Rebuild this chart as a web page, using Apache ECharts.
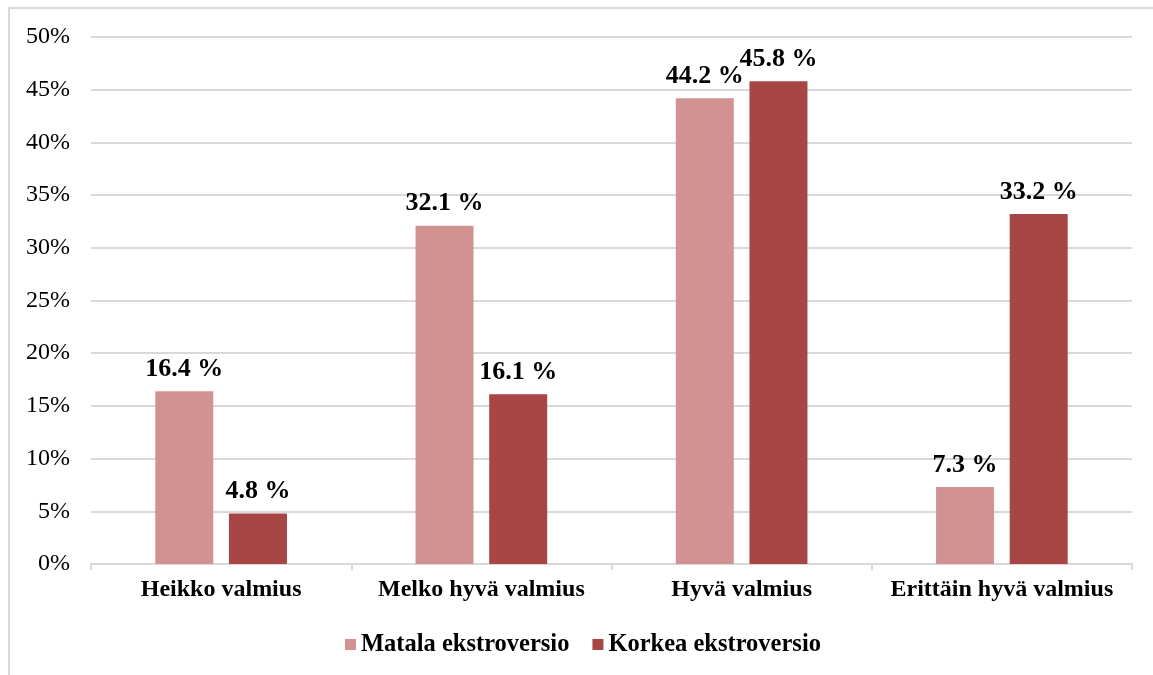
<!DOCTYPE html>
<html>
<head>
<meta charset="utf-8">
<script src="https://cdn.jsdelivr.net/npm/echarts@6/dist/echarts.min.js"></script>
<style>html,body{margin:0;padding:0;background:#fff}#c{width:1153px;height:675px}</style>
</head>
<body>
<div id="c"></div>
<script>
const categories = ['Heikko valmius', 'Melko hyvä valmius', 'Hyvä valmius', 'Erittäin hyvä valmius'];
const seriesNames = ['Matala ekstroversio', 'Korkea ekstroversio'];
const matala = [16.4, 32.1, 44.2, 7.3];
const korkea = [4.8, 16.1, 45.8, 33.2];
const colors = ['#D39292', '#A84646'];

const font = '"Liberation Serif", "Times New Roman", serif';
const chart = echarts.init(document.getElementById('c'));
const labelCfg = {
  show: true, position: 'top', distance: 9,
  fontFamily: font, fontSize: 26, fontWeight: 'bold', color: '#000',
  formatter: p => p.value.toFixed(1) + ' %'
};
chart.setOption({
  animation: false,
  graphic: [{
    type: 'rect', shape: {x: 9, y: 8, width: 1200, height: 700},
    style: {fill: 'none', stroke: '#d9d9d9', lineWidth: 2}, silent: true, z: -1
  }],
  grid: {left: 91, right: 21, top: 37, bottom: 111},
  legend: {
    top: 627, left: 340, itemWidth: 11, itemHeight: 11, itemGap: 23,
    icon: 'rect',
    textStyle: {fontFamily: font, fontSize: 24.5, fontWeight: 'bold', color: '#000'},
    data: seriesNames
  },
  xAxis: {
    type: 'category', data: categories,
    axisLine: {lineStyle: {color: '#d9d9d9', width: 2}},
    axisTick: {show: true, length: 6, lineStyle: {color: '#d9d9d9', width: 2}},
    axisLabel: {interval: 0, fontFamily: font, fontSize: 24, fontWeight: 'bold', color: '#000', margin: 14}
  },
  yAxis: {
    type: 'value', min: 0, max: 50, interval: 5,
    axisLine: {show: false}, axisTick: {show: false},
    splitLine: {lineStyle: {color: '#d9d9d9', width: 2}},
    axisLabel: {fontFamily: font, fontSize: 24, color: '#000', margin: 21, formatter: v => v + '%'}
  },
  series: [
    {name: seriesNames[0], type: 'bar', data: matala, barWidth: 58, barGap: '27%',
     itemStyle: {color: colors[0]}, label: labelCfg},
    {name: seriesNames[1], type: 'bar', data: korkea, barWidth: 58,
     itemStyle: {color: colors[1]}, label: labelCfg}
  ]
});
</script>
</body>
</html>
